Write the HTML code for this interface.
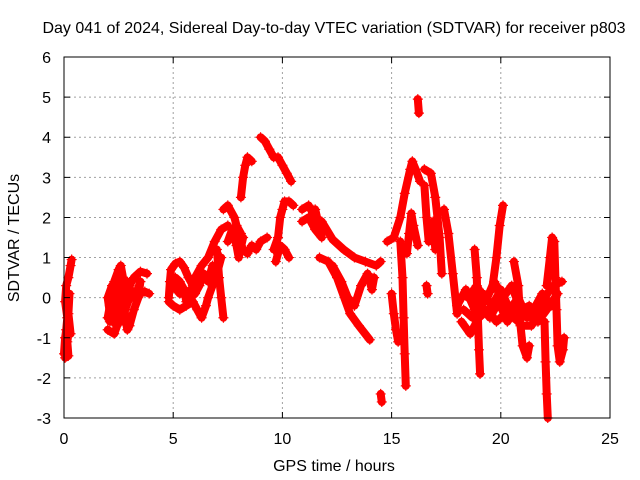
<!DOCTYPE html>
<html><head><meta charset="utf-8"><style>
html,body{margin:0;padding:0;background:#fff;}
svg{display:block;font-family:"Liberation Sans",sans-serif;}
</style></head><body>
<svg id="chart" width="640" height="480" xmlns="http://www.w3.org/2000/svg">
<text x="334" y="33" font-size="16" text-anchor="middle" fill="#000">Day 041 of 2024, Sidereal Day-to-day VTEC variation (SDTVAR) for receiver p803</text>
<g id="grid"></g>
<g id="series"></g>
<rect x="64" y="57" width="546" height="361" fill="none" stroke="#000" stroke-width="1"/>
<g id="axes"></g>
<text x="334" y="471" font-size="16" text-anchor="middle">GPS time / hours</text>
<text transform="translate(19,238) rotate(-90)" font-size="16" text-anchor="middle">SDTVAR / TECUs</text>
</svg>
<script>
const xTicks = [0,5,10,15,20,25];
const yTicks = [-3,-2,-1,0,1,2,3,4,5,6];
const seg1 = [[0.0,-1.4],[0.05,-1.0],[0.1,-0.8],[0.15,-0.5],[0.05,-0.1],[0.1,0.3],[0.2,0.5],[0.3,0.8],[0.35,0.95]];
const seg2 = [[0.05,-1.5],[0.2,-1.45],[0.15,-1.1],[0.2,-0.9],[0.3,-0.9],[0.2,-0.4],[0.25,0.1]];
const seg3 = [[2.0,-0.5],[2.1,-0.2],[2.2,0.1],[2.3,0.4],[2.5,0.7],[2.6,0.8],[2.7,0.5],[2.75,0.0],[2.8,-0.5],[2.9,-0.8],[3.0,-0.7],[3.2,-0.3],[3.4,0.0],[3.5,0.4],[3.3,0.1],[3.1,0.0],[3.0,0.3],[3.2,0.5],[3.5,0.65],[3.8,0.6]];
const seg4 = [[2.0,-0.8],[2.3,-0.9],[2.5,-0.6],[2.6,-0.3],[2.4,0.0],[2.2,0.3],[2.0,0.0],[2.1,-0.4],[2.4,-0.7]];
const seg4b = [[2.1,-0.6],[2.3,-0.3],[2.5,0.0],[2.4,0.4],[2.6,0.3],[2.7,-0.1],[2.6,-0.6],[2.8,-0.3],[3.0,0.0],[2.9,0.4]];
const seg5 = [[3.5,0.1],[3.7,0.15],[3.9,0.1]];
const seg6 = [[4.8,0.0],[4.85,0.4],[4.9,0.7],[5.1,0.85],[5.3,0.9],[5.5,0.75],[5.7,0.5],[5.9,0.3],[6.0,0.5],[6.3,0.8],[6.6,1.0],[6.9,1.4],[7.2,1.7],[7.5,1.8]];
const seg7 = [[4.8,-0.1],[5.0,-0.2],[5.3,-0.3],[5.6,-0.2],[5.9,-0.1],[6.1,-0.3],[6.3,-0.5],[6.5,-0.2],[6.6,0.0],[6.8,0.3],[7.0,0.6],[7.2,1.0]];
const seg8 = [[5.0,0.3],[5.3,0.1],[5.6,0.1],[5.8,0.2]];
const seg8b = [[4.9,0.2],[5.1,0.5],[5.3,0.4],[5.5,0.2],[5.6,-0.1],[5.8,0.0],[6.0,0.1],[6.2,0.3],[6.4,0.6],[6.6,0.4],[6.8,0.8]];
const seg9 = [[7.0,1.2],[7.1,0.5],[7.2,0.0],[7.3,-0.5]];
const seg10 = [[7.3,2.2],[7.5,2.3],[7.8,2.0],[7.9,1.8],[8.1,1.6],[8.0,1.5],[8.2,1.2],[8.4,1.1],[8.6,1.3],[8.8,1.2],[9.0,1.4],[9.3,1.5]];
const seg10b = [[7.5,1.4],[7.7,1.7],[7.9,1.3],[8.0,1.0],[8.2,1.5]];
const seg11 = [[8.1,2.5],[8.2,3.0],[8.3,3.3],[8.4,3.5],[8.6,3.4]];
const seg12 = [[9.0,4.0],[9.2,3.9],[9.4,3.7],[9.6,3.5],[9.8,3.5],[10.0,3.3],[10.2,3.1],[10.4,2.9]];
const seg13 = [[9.6,1.2],[9.8,1.5],[9.9,2.0],[10.0,2.2],[10.1,2.4],[10.3,2.4],[10.5,2.3]];
const seg14 = [[9.7,0.9],[9.9,1.3],[10.1,1.2],[10.3,1.0]];
const seg15 = [[10.9,2.2],[11.2,2.3],[11.5,2.0],[11.8,1.9],[12.3,1.45],[12.8,1.2],[13.3,1.0],[13.8,0.9],[14.3,0.8],[14.5,0.9]];
const seg15b = [[10.9,1.9],[11.2,2.0],[11.5,1.7],[11.8,1.5],[11.5,2.2]];
const seg16 = [[11.7,1.0],[12.1,0.9],[12.5,0.5],[13.1,-0.4],[13.5,-0.7],[14.0,-1.05]];
const seg16b = [[12.3,0.8],[12.7,0.4],[13.0,0.0],[13.3,-0.2],[13.6,0.3],[13.9,0.6],[14.1,0.2],[14.2,0.5]];
const seg17 = [[14.5,-2.4],[14.55,-2.6]];
const seg18 = [[15.0,0.1],[15.1,-0.4],[15.2,-0.8],[15.3,-1.1]];
const seg19 = [[14.8,1.4],[15.1,1.5],[15.4,2.0],[15.6,2.6],[15.85,3.2],[15.95,3.4],[16.1,3.2],[16.3,2.9]];
const seg20 = [[15.4,1.4],[15.5,0.5],[15.55,-0.5],[15.6,-1.4],[15.65,-2.2]];
const seg21 = [[15.7,1.1],[15.8,1.6],[15.9,2.1],[16.0,1.8],[16.2,1.3]];
const seg22 = [[16.2,4.95],[16.25,4.6]];
const seg23 = [[16.5,3.2],[16.8,3.1],[17.0,2.5],[17.2,1.5],[17.3,0.6]];
const seg23b = [[16.5,2.8],[16.6,2.0],[16.7,1.4],[16.9,1.9],[17.0,1.2]];
const seg24 = [[17.4,2.2],[17.6,1.6],[17.8,0.6],[18.0,-0.4]];
const seg25 = [[16.6,0.3],[16.65,0.1]];
const seg26 = [[18.0,-0.2],[18.4,0.2],[18.8,-0.3],[19.2,0.1],[19.6,-0.2],[20.0,0.2],[20.4,-0.3],[20.8,0.0],[21.2,-0.5],[21.6,-0.4],[22.0,0.0],[22.4,0.3],[22.8,0.4]];
const seg27 = [[18.2,-0.6],[18.6,-0.9],[19.0,-0.5],[19.4,-0.3],[19.8,-0.6],[20.2,-0.4],[20.6,-0.5],[21.0,-0.7],[21.4,-0.7],[21.8,-0.3],[22.2,-0.1]];
const seg27b = [[18.5,0.0],[18.9,0.3],[19.3,-0.1],[19.7,0.4],[20.1,0.0],[20.5,0.3],[20.9,-0.3],[21.3,-0.2],[21.7,-0.6],[22.1,-0.3],[22.6,0.1]];
const seg27c = [[18.3,-0.3],[18.7,-0.5],[19.1,-0.2],[19.5,-0.5],[19.9,-0.1],[20.3,-0.6],[20.7,-0.2],[21.1,-0.4],[21.5,-0.3],[21.9,0.1],[22.3,-0.2]];
const seg28 = [[18.8,1.2],[18.9,0.5],[18.95,-0.5],[19.0,-1.3],[19.05,-1.9]];
const seg29 = [[19.6,0.2],[19.8,1.0],[19.95,1.8],[20.1,2.3]];
const seg30 = [[20.6,0.9],[20.8,0.3],[20.9,-0.7],[21.0,-1.2],[21.2,-1.5],[21.3,-1.2]];
const seg31 = [[22.0,-0.6],[22.05,-1.6],[22.1,-2.4],[22.15,-3.0]];
const seg32 = [[22.1,0.3],[22.25,1.0],[22.35,1.5],[22.45,1.4],[22.5,0.5],[22.55,-0.3],[22.6,-1.2],[22.7,-1.6],[22.85,-1.3],[22.9,-1.0]];
const allSeries = [seg1,seg2,seg3,seg4,seg4b,seg5,seg6,seg7,seg8,seg8b,seg9,seg10,seg10b,seg11,seg12,seg13,seg14,seg15,seg15b,seg16,seg16b,seg17,seg18,seg19,seg20,seg21,seg22,seg23,seg23b,seg24,seg25,seg26,seg27,seg27b,seg27c,seg28,seg29,seg30,seg31,seg32];

const NS = "http://www.w3.org/2000/svg";
const X0 = 64, X1 = 610, Y0 = 418, Y1 = 57;
function sx(t){ return X0 + (t - 0) / 25 * (X1 - X0); }
function sy(v){ return Y0 - (v + 3) / 9 * (Y0 - Y1); }
const grid = document.getElementById('grid');
const axes = document.getElementById('axes');
const series = document.getElementById('series');
function mk(tag, attrs, parent){ const e = document.createElementNS(NS, tag); for (const k in attrs) e.setAttribute(k, attrs[k]); parent.appendChild(e); return e; }

xTicks.forEach(t => {
  const x = sx(t);
  if (t > 0 && t < 25) {
    const g = mk('line', {x1:x, x2:x, y1:Y1, y2:Y0, stroke:'#a0a0a0', 'stroke-dasharray':'2,3'}, grid);
    
    
  }
  const tk = mk('path', {d:`M${x},${Y0}v-6M${x},${Y1}v6`, stroke:'#000'}, axes);
  
  
  const lb = mk('text', {x:x, y:444, 'font-size':16, 'text-anchor':'middle'}, axes);
  lb.textContent = t;
  
  
});
yTicks.forEach(v => {
  const y = sy(v);
  if (v > -3 && v < 6) {
    const g = mk('line', {x1:X0, x2:X1, y1:y, y2:y, stroke:'#a0a0a0', 'stroke-dasharray':'2,3'}, grid);
    
    
  }
  const tk = mk('path', {d:`M${X0},${y}h6M${X1},${y}h-6`, stroke:'#000'}, axes);
  
  
  const lb = mk('text', {x:51, y:y+6, 'font-size':16, 'text-anchor':'end'}, axes);
  lb.textContent = v;
  
  
});

allSeries.forEach(seg => {
  const pts = seg.map(p => sx(p[0]).toFixed(1) + ',' + sy(p[1]).toFixed(1)).join(' ');
  const pl = mk('polyline', {points:pts, fill:'none', stroke:'#ff0000', 'stroke-width':8, 'stroke-linejoin':'round', 'stroke-linecap':'round'}, series);
  
  
  seg.forEach(p => {
    const x = sx(p[0]), y = sy(p[1]);
    const m = mk('path', {d:`M${x-5},${y}h10M${x},${y-5}v10`, stroke:'#ff0000', 'stroke-width':1.2}, series);
    
    
  });
});
</script>
</body></html>
